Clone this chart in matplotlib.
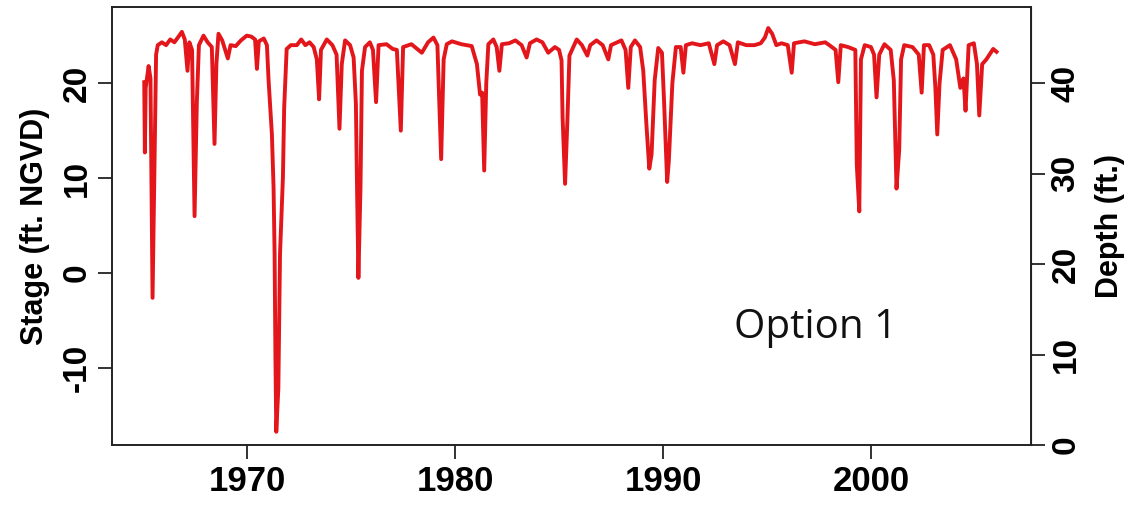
import matplotlib
matplotlib.use("Agg")
import matplotlib.pyplot as plt
import numpy as np

# digitised stage record (year, ft NGVD)
years = [1965.05, 1965.08, 1965.12, 1965.26, 1965.35, 1965.45, 1965.55, 1965.62, 1965.70, 1965.9,
         1966.1, 1966.3, 1966.5, 1966.7, 1966.86, 1967.0, 1967.13, 1967.22, 1967.35, 1967.47,
         1967.58, 1967.68, 1967.9, 1968.1, 1968.3, 1968.43, 1968.52, 1968.62, 1968.8, 1969.07,
         1969.2, 1969.45, 1969.7, 1969.98, 1970.2, 1970.38, 1970.47, 1970.56, 1970.8, 1970.95,
         1971.03, 1971.19, 1971.27, 1971.32, 1971.36, 1971.40, 1971.50, 1971.58, 1971.72, 1971.78,
         1971.9, 1972.1, 1972.39, 1972.6, 1972.8, 1973.0, 1973.2, 1973.35, 1973.46, 1973.55,
         1973.83, 1974.1, 1974.3, 1974.44, 1974.55, 1974.71, 1974.95, 1975.12, 1975.23, 1975.28,
         1975.35, 1975.45, 1975.52, 1975.67, 1975.9, 1976.05, 1976.2, 1976.32, 1976.7, 1977.0,
         1977.2, 1977.39, 1977.5, 1977.9, 1978.4, 1978.7, 1978.96, 1979.15, 1979.33, 1979.45,
         1979.6, 1979.85, 1980.3, 1980.8, 1981.05, 1981.2, 1981.3, 1981.4, 1981.5, 1981.6,
         1981.84, 1982.0, 1982.13, 1982.25, 1982.6, 1982.9, 1983.2, 1983.44, 1983.6, 1983.92,
         1984.2, 1984.48, 1984.8, 1985.0, 1985.12, 1985.17, 1985.29, 1985.4, 1985.5, 1985.85,
         1986.1, 1986.36, 1986.5, 1986.8, 1987.1, 1987.37, 1987.5, 1988.0, 1988.2, 1988.33,
         1988.45, 1988.65, 1988.9, 1989.05, 1989.2, 1989.34, 1989.45, 1989.6, 1989.77, 1989.95,
         1990.05, 1990.2, 1990.28, 1990.45, 1990.62, 1990.85, 1990.98, 1991.1, 1991.4, 1991.8,
         1992.2, 1992.47, 1992.6, 1992.9, 1993.2, 1993.46, 1993.6, 1994.0, 1994.4, 1994.7,
         1994.9, 1995.06, 1995.25, 1995.45, 1995.7, 1996.0, 1996.19, 1996.3, 1996.8, 1997.3,
         1997.8, 1998.0, 1998.3, 1998.43, 1998.55, 1998.9, 1999.25, 1999.32, 1999.44, 1999.52,
         1999.7, 2000.0, 2000.15, 2000.27, 2000.4, 2000.65, 2000.95, 2001.1, 2001.23, 2001.36,
         2001.45, 2001.6, 2002.0, 2002.3, 2002.44, 2002.55, 2002.8, 2003.0, 2003.1, 2003.19,
         2003.3, 2003.45, 2003.8, 2004.1, 2004.3, 2004.45, 2004.55, 2004.7, 2004.95, 2005.1,
         2005.21, 2005.35, 2005.55, 2005.88, 2006.04]
stage = [20.1, 12.7, 19.5, 21.8, 20.5, -2.6, 12.0, 23.0, 24.0, 24.3,
         24.0, 24.6, 24.3, 24.9, 25.4, 24.6, 21.3, 24.3, 23.5, 6.0,
         18.0, 24.0, 25.0, 24.3, 23.8, 13.6, 22.0, 25.2, 24.5, 22.6,
         24.0, 23.9, 24.5, 25.0, 24.9, 24.6, 21.5, 24.4, 24.7, 24.0,
         20.3, 14.6, 9.0, 2.0, -8.9, -16.7, -12.1, 2.0, 10.1, 17.4,
         23.6, 24.0, 24.0, 24.6, 24.0, 24.3, 23.8, 22.5, 18.3, 23.5,
         24.6, 24.0, 23.0, 15.2, 22.0, 24.5, 24.0, 22.7, 17.8, 9.7,
         -0.5, 9.0, 21.3, 23.8, 24.3, 23.5, 18.0, 24.0, 24.1, 23.6,
         23.5, 15.0, 23.8, 24.1, 23.2, 24.3, 24.8, 24.0, 12.0, 22.5,
         24.1, 24.4, 24.1, 23.9, 22.0, 18.8, 19.0, 10.8, 20.0, 24.1,
         24.6, 23.8, 21.3, 24.1, 24.2, 24.5, 24.0, 22.7, 24.2, 24.6,
         24.3, 23.2, 23.8, 23.5, 22.4, 16.4, 9.4, 16.0, 22.9, 24.6,
         24.0, 22.9, 24.0, 24.5, 24.0, 22.5, 24.0, 24.5, 23.5, 19.5,
         23.8, 24.5, 23.8, 21.3, 15.7, 11.0, 12.5, 20.3, 23.7, 23.2,
         18.1, 9.6, 11.8, 20.0, 23.8, 23.8, 21.1, 24.0, 24.2, 24.0,
         24.2, 22.0, 24.0, 24.4, 24.0, 22.0, 24.3, 24.0, 24.0, 24.2,
         24.8, 25.8, 25.2, 24.0, 24.2, 24.0, 21.1, 24.2, 24.4, 24.1,
         24.3, 24.0, 23.5, 20.1, 24.0, 23.8, 23.5, 11.4, 6.5, 22.5,
         24.0, 23.8, 23.0, 18.5, 23.0, 24.1, 23.5, 20.3, 8.9, 13.0,
         22.5, 24.0, 23.8, 23.0, 19.0, 24.0, 24.0, 23.0, 19.5, 14.6,
         20.0, 23.5, 24.0, 22.5, 19.5, 20.5, 17.1, 24.0, 24.2, 22.0,
         16.6, 22.0, 22.5, 23.6, 23.3]

x_ticks = [1970, 1980, 1990, 2000]
stage_ticks = [-10, 0, 10, 20]
depth_ticks = [0, 10, 20, 30, 40]

stage_bottom = -18.1
depth_scale = 1.05

def to_depth(s):
    return (np.asarray(s) - stage_bottom) * depth_scale

def to_stage(d):
    return np.asarray(d) / depth_scale + stage_bottom

lab_font = dict(family=['Liberation Sans Narrow', 'Liberation Sans', 'DejaVu Sans'], weight='bold')

fig = plt.figure(figsize=(11.36, 5.11), dpi=100)
ax = fig.add_axes([0.0986, 0.129, 0.809, 0.857])

ax.plot(years, stage, color='#e3161b', lw=2.8, solid_joinstyle='round')
ax.set_xlim(1963.5, 2007.7)
ax.set_ylim(stage_bottom, 28.0)

ax.set_xticks(x_ticks)
ax.set_yticks(stage_ticks)
ax.set_xticklabels([str(t) for t in x_ticks], fontsize=25, **lab_font)
ax.set_yticklabels([str(t) for t in stage_ticks], fontsize=24, rotation=90, va='center', **lab_font)
ax.tick_params(axis='both', direction='out', length=10, width=1.3, color='#222222', pad=4)
ax.set_ylabel('Stage (ft. NGVD)', fontsize=22, labelpad=8, **lab_font)
for sp in ax.spines.values():
    sp.set_linewidth(1.4)
    sp.set_color('#222222')

sec = ax.secondary_yaxis('right', functions=(to_depth, to_stage))
sec.set_yticks(depth_ticks)
sec.set_yticklabels([str(t) for t in depth_ticks], fontsize=24, rotation=90, va='center', **lab_font)
sec.tick_params(direction='out', length=10, width=1.3, color='#222222', pad=4)
sec.set_ylabel('Depth (ft.)', fontsize=22, labelpad=10, **lab_font)

ax.text(0.765, 0.267, 'Option 1', transform=ax.transAxes, fontsize=29,
        family=['Open Sans', 'DejaVu Sans'], ha='center', va='center', color='#111111')

fig.savefig('out.png', dpi=100)
